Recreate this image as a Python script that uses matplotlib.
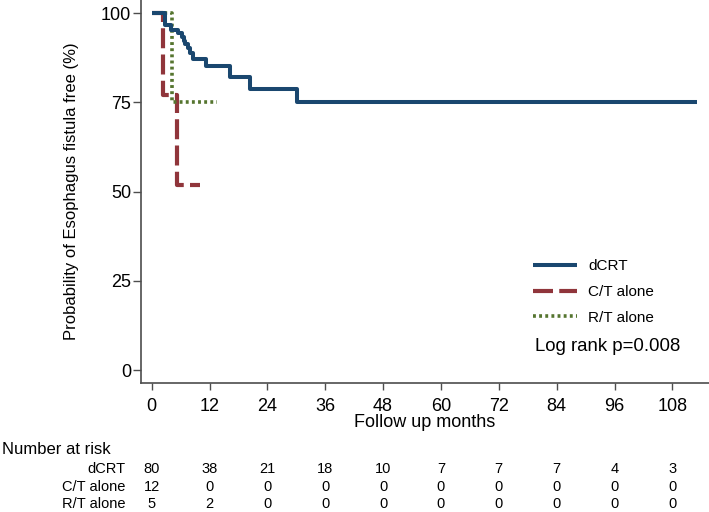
import matplotlib
matplotlib.use("Agg")
import matplotlib.pyplot as plt
from matplotlib.transforms import blended_transform_factory

plt.rcParams['font.family'] = ['Liberation Sans', 'DejaVu Sans']

# ---- data ----
dcrt_t = [0, 2.8, 4.1, 5.5, 6.2, 6.6, 7.0, 7.6, 7.9, 8.6, 11.2, 16.2, 20.3, 30.2, 113.2]
dcrt_s = [100, 96.6, 95.3, 94.4, 93.4, 92.3, 91.4, 90.2, 88.8, 87.1, 85.3, 82.1, 78.7, 75.0, 75.0]
ct_t = [0, 2.4, 5.3, 10.0]
ct_s = [100, 77.1, 51.9, 51.9]
rt_t = [0, 4.15, 13.6]
rt_s = [100, 75.0, 75.0]

groups = ["dCRT", "C/T alone", "R/T alone"]
risk_times = [0, 12, 24, 36, 48, 60, 72, 84, 96, 108]
risk_dcrt = [80, 38, 21, 18, 10, 7, 7, 7, 4, 3]
risk_ct = [12, 0, 0, 0, 0, 0, 0, 0, 0, 0]
risk_rt = [5, 2, 0, 0, 0, 0, 0, 0, 0, 0]
yticks = [0, 25, 50, 75, 100]

navy = '#1a476f'
maroon = '#90353b'
green = '#55752f'

W, H = 709, 512
fig = plt.figure(figsize=(W / 100, H / 100), dpi=100)
ax = fig.add_axes([141 / W, 1 - 383 / H, 1 - 141 / W, 383 / H])

ax.plot(dcrt_t, dcrt_s, drawstyle='steps-post', color=navy, lw=2.9,
        solid_capstyle='butt', label=groups[0], zorder=3)
ax.plot(ct_t, ct_s, drawstyle='steps-post', color=maroon, lw=3.0,
        dashes=(4.8, 1.5), dash_capstyle='butt', label=groups[1], zorder=2)
ax.plot(rt_t, rt_s, drawstyle='steps-post', color=green, lw=2.6,
        dashes=(0.8, 0.9), dash_capstyle='butt', label=groups[2], zorder=2)

ax.set_xlim(-2.22, 115.6)
ax.set_ylim(-3.64, 103.7)
ax.set_xticks(risk_times)
ax.set_yticks(yticks)

for s in ['top', 'right']:
    ax.spines[s].set_visible(False)
for s in ['left', 'bottom']:
    ax.spines[s].set_color('#4d4d4d')
    ax.spines[s].set_linewidth(1.2)

ax.tick_params(axis='y', direction='out', length=6, width=1.0, color='#4d4d4d',
               pad=1, labelsize=13)
ax.tick_params(axis='x', direction='out', length=5, width=1.0, color='#4d4d4d',
               pad=6, labelsize=13)

ax.set_ylabel("Probability of Esophagus fistula free (%)", fontsize=12)
ax.yaxis.set_label_coords(-0.1215, 0.5)
ax.set_xlabel("Follow up months", fontsize=13)
ax.xaxis.set_label_coords(0.5, -0.104)
ax.xaxis.label.set_va('center')
ax.yaxis.label.set_va('center')

leg = ax.legend(loc='upper left', bbox_to_anchor=((533 - 141) / 568, (383 - 259) / 383),
                frameon=False, fontsize=11, handlelength=2.9, handletextpad=0.72,
                labelspacing=0.78, borderpad=0, borderaxespad=0)

ax.text((535 - 141) / 568, (383 - 346.7) / 383, "Log rank p=0.008",
        transform=ax.transAxes, fontsize=13.4, ha='left', va='center')

# number at risk table
fig.text(2 / W, 1 - 449 / H, "Number at risk", fontsize=12, ha='left', va='center')
trans = blended_transform_factory(ax.transData, fig.transFigure)
rows = [risk_dcrt, risk_ct, risk_rt]
row_y = [469, 486.7, 504.5]
for name, vals, yy in zip(groups, rows, row_y):
    fig.text(125 / W, 1 - yy / H, name, fontsize=10.5, ha='right', va='center')
    for t, v in zip(risk_times, vals):
        ax.text(t, 1 - yy / H, str(v), transform=trans, fontsize=10.5,
                ha='center', va='center', clip_on=False)

fig.savefig("out.png", dpi=100)
